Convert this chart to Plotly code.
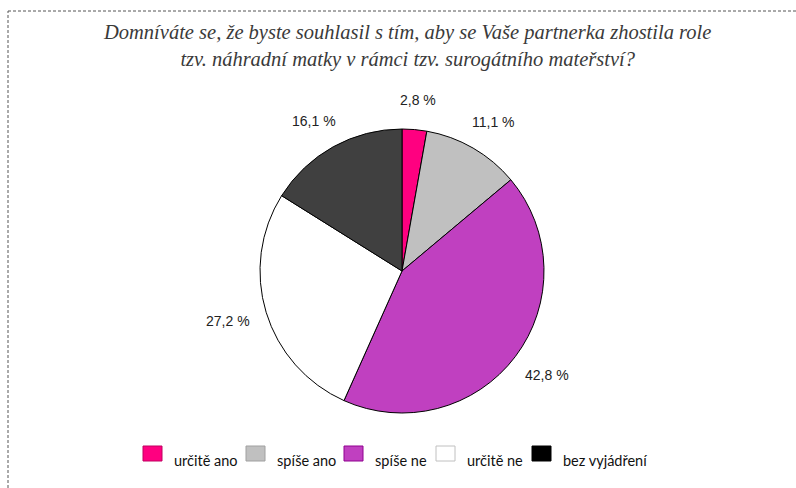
import math
import plotly.graph_objects as go

categories = ["určitě ano", "spíše ano", "spíše ne", "určitě ne", "bez vyjádření"]
values = [2.8, 11.1, 42.8, 27.2, 16.1]
slice_colors = ["#FF0080", "#C0C0C0", "#C040C0", "#FFFFFF", "#404040"]
legend_colors = ["#FF0080", "#C0C0C0", "#C040C0", "#FFFFFF", "#000000"]
legend_borders = ["#C00060", "#A0A0A0", "#900090", "#C0C0C0", "#000000"]
title_lines = ["Domníváte se, že byste souhlasil s tím, aby se Vaše partnerka zhostila role",
               "tzv. náhradní matky v rámci tzv. surogátního mateřství?"]

W, H = 796, 488
cx, cy, R = 402, 271, 142

fig = go.Figure()
fig.add_trace(go.Pie(
    labels=categories, values=values, sort=False, direction="clockwise", rotation=0,
    marker=dict(colors=slice_colors, line=dict(color="#000000", width=1)),
    textinfo="none", hoverinfo="label+percent", showlegend=False,
    domain=dict(x=[(cx - R) / W, (cx + R) / W], y=[1 - (cy + R) / H, 1 - (cy - R) / H]),
))

annotations = []
# percentage labels derived from slice mid-angles
total = sum(values)
cum = 0.0
for v in values:
    mid = (cum + v / 2) / total * 2 * math.pi
    cum += v
    dx, dy = math.sin(mid), -math.cos(mid)
    rr = R + 16
    tx = cx + rr * dx + 24 * dx
    ty = cy + rr * dy + 14 * dy
    txt = f"{v:.1f}".replace(".", ",") + " %"
    annotations.append(dict(x=tx / W, y=1 - ty / H, xref="paper", yref="paper",
                            text=txt, showarrow=False, xanchor="center", yanchor="middle",
                            font=dict(family="Liberation Sans, Arial", size=14, color="#222222")))

# title
annotations.append(dict(x=407 / W, y=1 - 46 / H, xref="paper", yref="paper",
                        text="<br>".join(f"<i>{t}</i>" for t in title_lines), showarrow=False,
                        xanchor="center", yanchor="middle", align="center",
                        font=dict(family="Liberation Serif, serif", size=20.5, color="#3a3a3a")))

shapes = []
# custom legend
leg_x = [143, 246, 344, 436, 532]
for i, cat in enumerate(categories):
    x0 = leg_x[i]
    shapes.append(dict(type="rect", xref="paper", yref="paper",
                       x0=x0 / W, x1=(x0 + 19) / W, y0=1 - 461 / H, y1=1 - 446 / H,
                       fillcolor=legend_colors[i], line=dict(color=legend_borders[i], width=1)))
    annotations.append(dict(x=(x0 + 29) / W, y=1 - 460 / H, xref="paper", yref="paper",
                            text=cat, showarrow=False, xanchor="left", yanchor="middle",
                            font=dict(family="Lato, Carlito, sans-serif", size=14.5, color="#111111")))

# dashed frame lines
shapes.append(dict(type="line", xref="paper", yref="paper", x0=8 / W, x1=1, y0=1 - 11 / H, y1=1 - 11 / H,
                   line=dict(color="#555555", width=1, dash="3px,2px")))
shapes.append(dict(type="line", xref="paper", yref="paper", x0=8 / W, x1=8 / W, y0=0, y1=1 - 11 / H,
                   line=dict(color="#555555", width=1, dash="3px,2px")))

fig.update_layout(width=W, height=H, margin=dict(l=0, r=0, t=0, b=0),
                  paper_bgcolor="white", plot_bgcolor="white",
                  annotations=annotations, shapes=shapes)
fig.write_html("out.html", config={"displayModeBar": False},
               post_script="document.body.style.margin='0';document.body.style.overflow='hidden';")
